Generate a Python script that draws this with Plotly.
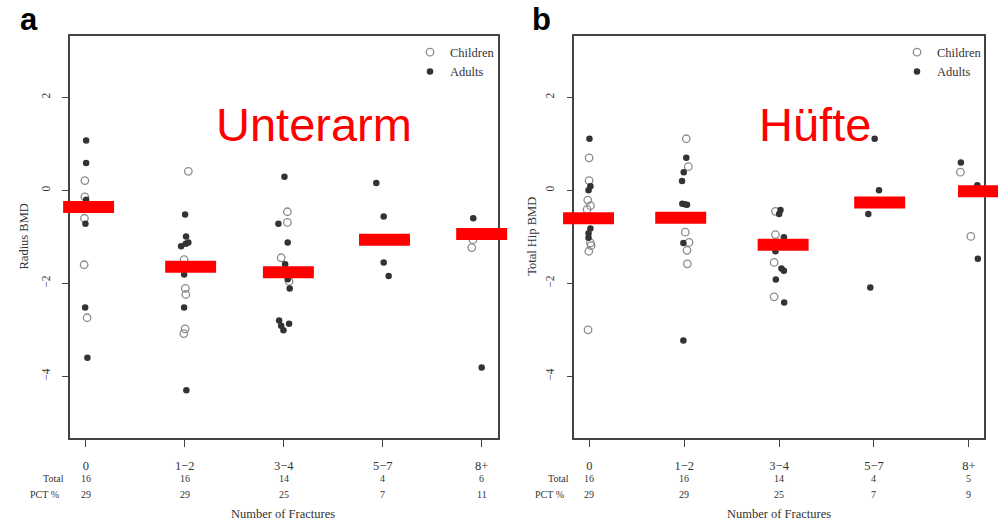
import plotly.graph_objects as go

# ---------------- data ----------------
categories = ["0", "1\u22122", "3\u22124", "5\u22127", "8+"]
y_ticks = [2, 0, -2, -4]
y_tick_text = ["2", "0", "\u22122", "\u22124"]

# Panel a: Radius BMD
a_child_cat = [0, 0, 0, 0, 0, 1, 1, 1, 1, 1, 1, 2, 2, 2, 2, 4, 4]
a_child_jit = [-0.01, -0.01, -0.014, -0.017, 0.013, 0.036, -0.007, 0.006, 0.01, 0.003, -0.01,
               0.037, 0.037, -0.026, 0.054, -0.10, -0.088]
a_child_val = [0.21, -0.14, -0.60, -1.60, -2.74, 0.41, -1.49, -2.11, -2.24, -2.98, -3.08,
               -0.46, -0.69, -1.45, -1.96, -1.23, -1.06]

a_adult_cat = [0, 0, 0, 0, 0, 0, 1, 1, 1, 1, 1, 1, 1, 1,
               2, 2, 2, 2, 2, 2, 2, 2, 2, 2, 3, 3, 3, 3, 4, 4]
a_adult_jit = [0.003, 0.003, 0.003, -0.004, -0.007, 0.016,
               0.003, 0.013, -0.037, 0.01, 0.036, -0.007, -0.007, 0.016,
               0.007, -0.054, 0.04, 0.014, 0.04, 0.06, -0.047, -0.026, -0.003, 0.054,
               -0.065, 0.01, 0.01, 0.06, -0.085, 0.0]
a_adult_val = [1.07, 0.59, -0.20, -0.72, -2.52, -3.60,
               -0.52, -0.99, -1.20, -1.15, -1.12, -1.81, -2.52, -4.30,
               0.29, -0.72, -1.12, -1.59, -1.91, -2.11, -2.80, -2.91, -3.01, -2.87,
               0.16, -0.56, -1.55, -1.84, -0.60, -3.81]

a_mean = [-0.36, -1.645, -1.76, -1.06, -0.94]
a_mean_shift = [0.028, 0.059, 0.047, 0.018, 0.0]
a_total = [16, 16, 14, 4, 6]
a_pct = [29, 29, 25, 7, 11]

# Panel b: Total Hip BMD
b_child_cat = [0, 0, 0, 0, 0, 0, 0, 0, 0, 1, 1, 1, 1, 1, 1, 2, 2, 2, 2, 4, 4]
b_child_jit = [-0.004, -0.004, -0.018, 0.01, -0.025, 0.01, 0.017, -0.007, -0.015,
               0.021, 0.042, 0.01, 0.05, 0.028, 0.032,
               -0.039, -0.039, -0.053, -0.053, -0.089, 0.021]
b_child_val = [0.70, 0.21, -0.21, -0.33, -0.41, -1.13, -1.19, -1.31, -3.00,
               1.11, 0.51, -0.90, -1.12, -1.29, -1.58,
               -0.45, -0.95, -1.55, -2.29, 0.39, -0.99]

b_adult_cat = [0, 0, 0, 0, 0, 0, 1, 1, 1, 1, 1, 1, 1, 1,
               2, 2, 2, 2, 2, 2, 2, 2, 3, 3, 3, 3, 4, 4, 4]
b_adult_jit = [0.0, 0.01, -0.01, 0.01, -0.01, -0.01,
               0.021, -0.006, -0.024, -0.021, 0.004, 0.028, -0.01, -0.01,
               0.014, 0.0, 0.05, -0.039, 0.024, 0.05, -0.035, 0.053,
               0.007, 0.053, -0.06, -0.039, -0.084, 0.09, 0.095]
b_adult_val = [1.11, 0.09, 0.0, -0.82, -0.92, -1.02,
               0.70, 0.39, 0.20, -0.29, -0.30, -0.31, -1.13, -3.23,
               -0.42, -0.51, -1.01, -1.31, -1.68, -1.73, -1.92, -2.41,
               1.11, 0.0, -0.51, -2.09, 0.60, 0.11, -1.47]

b_mean = [-0.60, -0.59, -1.17, -0.26, -0.02]
b_mean_shift = [-0.01, -0.038, 0.042, 0.06, 0.155]
b_total = [16, 16, 14, 4, 5]
b_pct = [29, 29, 25, 7, 9]

# ---------------- styling ----------------
SERIF = "Liberation Serif"
SANS = "Liberation Sans"
TXT = "#333333"
FRAME = "#444444"
OPEN_COL = "#8c8c8c"
FILL_COL = "#333333"
W, H = 998, 523


def px_x(p):
    return p / W


def px_y(p):
    return (H - p) / H


fig = go.Figure()


def add_panel(xa, ya, legend, ccat, cjit, cval, acat, ajit, aval, mean, shift):
    fig.add_trace(go.Scatter(
        x=[c + j for c, j in zip(ccat, cjit)], y=cval, mode="markers", name="Children",
        xaxis=xa, yaxis=ya, legend=legend,
        marker=dict(symbol="circle-open", size=7.5, color=OPEN_COL, line=dict(width=1.3, color=OPEN_COL))))
    fig.add_trace(go.Scatter(
        x=[c + j for c, j in zip(acat, ajit)], y=aval, mode="markers", name="Adults",
        xaxis=xa, yaxis=ya, legend=legend,
        marker=dict(symbol="circle", size=6.5, color=FILL_COL, line=dict(width=0))))
    # line-ew marker length = 1.4 * size  -> ~51 px wide bar
    fig.add_trace(go.Scatter(
        x=[i + s for i, s in enumerate(shift)], y=mean, mode="markers", showlegend=False,
        xaxis=xa, yaxis=ya, cliponaxis=False, hoverinfo="skip",
        marker=dict(symbol="line-ew", size=36.4, color="#ff0000", line=dict(width=12, color="#ff0000"))))


add_panel("x", "y", "legend", a_child_cat, a_child_jit, a_child_val,
          a_adult_cat, a_adult_jit, a_adult_val, a_mean, a_mean_shift)
add_panel("x2", "y2", "legend2", b_child_cat, b_child_jit, b_child_val,
          b_adult_cat, b_adult_jit, b_adult_val, b_mean, b_mean_shift)

xaxis_common = dict(
    range=[-0.16, 4.16], tickmode="array", tickvals=list(range(len(categories))), ticktext=categories,
    showline=True, mirror=True, linecolor=FRAME, linewidth=1.5, showgrid=False, zeroline=False,
    ticks="outside", ticklen=8, tickwidth=1, tickcolor=FRAME, ticklabelstandoff=8,
    tickfont=dict(family=SERIF, size=12.5, color=TXT), layer="below traces", fixedrange=True)
yaxis_common = dict(
    range=[-5.32, 3.32], tickmode="array", tickvals=y_ticks, ticktext=y_tick_text, tickangle=-90,
    showline=True, mirror=True, linecolor=FRAME, linewidth=1.5, showgrid=False, zeroline=False,
    ticks="outside", ticklen=6, tickwidth=1, tickcolor=FRAME, ticklabelstandoff=8,
    tickfont=dict(family=SERIF, size=11.5, color=TXT), layer="below traces", fixedrange=True)

y_dom = [px_y(437.7), px_y(36)]
fig.update_layout(
    width=W, height=H, margin=dict(l=0, r=0, t=0, b=0),
    paper_bgcolor="white", plot_bgcolor="white",
    xaxis=dict(domain=[px_x(70), px_x(497.5)], anchor="y", **xaxis_common),
    yaxis=dict(domain=y_dom, anchor="x", **yaxis_common),
    xaxis2=dict(domain=[px_x(574.3), px_x(984)], anchor="y2", **xaxis_common),
    yaxis2=dict(domain=y_dom, anchor="x2", **yaxis_common),
    legend=dict(x=px_x(410), y=px_y(37.5), xanchor="left", yanchor="top", bgcolor="rgba(0,0,0,0)",
                font=dict(family=SERIF, size=12.5, color=TXT), itemwidth=30, tracegroupgap=0),
    legend2=dict(x=px_x(897), y=px_y(37.5), xanchor="left", yanchor="top", bgcolor="rgba(0,0,0,0)",
                 font=dict(family=SERIF, size=12.5, color=TXT), itemwidth=30, tracegroupgap=0),
    showlegend=True,
)

ann = []
# bottom rows
for xr, tot, pct, lab_x_total, lab_x_pct, title_x in (
        ("x", a_total, a_pct, 66, 61, 283),
        ("x2", b_total, b_pct, 571, 566, 779)):
    for i, (t, p) in enumerate(zip(tot, pct)):
        ann.append(dict(x=i, xref=xr, y=px_y(478.3), yref="paper", text=str(t), showarrow=False,
                        xanchor="center", yanchor="middle", font=dict(family=SERIF, size=10, color=TXT)))
        ann.append(dict(x=i, xref=xr, y=px_y(494.3), yref="paper", text=str(p), showarrow=False,
                        xanchor="center", yanchor="middle", font=dict(family=SERIF, size=10, color=TXT)))
    ann.append(dict(x=px_x(lab_x_total), xref="paper", y=px_y(478.3), yref="paper", text="Total",
                    showarrow=False, xanchor="right", yanchor="middle",
                    font=dict(family=SERIF, size=10, color=TXT)))
    ann.append(dict(x=px_x(lab_x_pct), xref="paper", y=px_y(494.3), yref="paper", text="PCT %",
                    showarrow=False, xanchor="right", yanchor="middle",
                    font=dict(family=SERIF, size=10, color=TXT)))
    ann.append(dict(x=px_x(title_x), xref="paper", y=px_y(514), yref="paper", text="Number of Fractures",
                    showarrow=False, xanchor="center", yanchor="middle",
                    font=dict(family=SERIF, size=12.5, color=TXT)))

# y axis titles
ann.append(dict(x=px_x(23), xref="paper", y=px_y(236.5), yref="paper", text="Radius BMD", textangle=-90,
                showarrow=False, xanchor="center", yanchor="middle", font=dict(family=SERIF, size=12.5, color=TXT)))
ann.append(dict(x=px_x(532), xref="paper", y=px_y(236.8), yref="paper", text="Total Hip BMD", textangle=-90,
                showarrow=False, xanchor="center", yanchor="middle", font=dict(family=SERIF, size=12.5, color=TXT)))

# panel letters
ann.append(dict(x=px_x(18), xref="paper", y=px_y(19), yref="paper", text="<b>a</b>", showarrow=False,
                xanchor="left", yanchor="middle", font=dict(family=SANS, size=31, color="#000000")))
ann.append(dict(x=px_x(529.5), xref="paper", y=px_y(19), yref="paper", text="<b>b</b>", showarrow=False,
                xanchor="left", yanchor="middle", font=dict(family=SANS, size=31, color="#000000")))

# red overlay labels
ann.append(dict(x=px_x(214), xref="paper", y=px_y(124.5), yref="paper", text="Unterarm", showarrow=False,
                xanchor="left", yanchor="middle", font=dict(family=SANS, size=47, color="#ff0000")))
ann.append(dict(x=px_x(757), xref="paper", y=px_y(124.5), yref="paper", text="H\u00fcfte", showarrow=False,
                xanchor="left", yanchor="middle", font=dict(family=SANS, size=47, color="#ff0000")))

fig.update_layout(annotations=ann)
fig.write_html("out.html", config={"displayModeBar": False},
               post_script="document.body.style.margin='0';document.body.style.padding='0';")
